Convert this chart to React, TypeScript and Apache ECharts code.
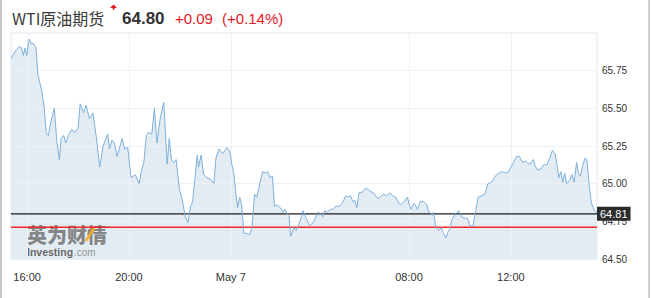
import { useEffect, useRef } from 'react';
import * as echarts from 'echarts';

// Time axis: trading minutes counted from May 6 00:00 (the 05:00–06:00 break removed)
const tradingMinutes = [
  922, 932, 942, 947, 951, 955, 959, 965, 969, 975,
  981, 985, 995, 1000, 1005, 1010, 1016, 1024, 1030, 1036,
  1040, 1046, 1051, 1057, 1065, 1073, 1080, 1085, 1093, 1099,
  1107, 1115, 1123, 1131, 1139, 1150, 1154, 1160, 1166, 1172,
  1176, 1184, 1190, 1197, 1205, 1215, 1224, 1229, 1235, 1241,
  1246, 1254, 1260, 1266, 1274, 1282, 1290, 1295, 1300, 1305,
  1311, 1319, 1325, 1333, 1339, 1345, 1350, 1361, 1364, 1370,
  1376, 1384, 1392, 1400, 1405, 1412, 1421, 1431, 1437, 1443,
  1447, 1451, 1456, 1461, 1465, 1471, 1479, 1485, 1490, 1496,
  1501, 1506, 1515, 1522, 1527, 1532, 1538, 1543, 1549, 1557,
  1563, 1567, 1573, 1577, 1581, 1589, 1594, 1602, 1610, 1616,
  1626, 1636, 1645, 1652, 1657, 1661, 1667, 1675, 1681, 1687,
  1695, 1703, 1711, 1716, 1722, 1728, 1732, 1737, 1742, 1748,
  1754, 1760, 1768, 1776, 1787, 1795, 1801, 1807, 1815, 1821,
  1829, 1834, 1840, 1848, 1856, 1860, 1864, 1872, 1880, 1886,
  1895, 1902, 1907, 1914, 1918, 1923, 1931, 1936, 1941, 1947,
  1952, 1956, 1962, 1970, 1977, 1984, 1992, 1998, 2003, 2011,
  2017, 2023, 2032, 2039, 2046, 2055, 2063, 2072, 2080, 2087,
  2095, 2100, 2106, 2113, 2120, 2128, 2134, 2139, 2145, 2153,
  2157, 2163, 2171, 2179, 2184, 2190, 2198, 2204, 2209, 2213,
  2218, 2222, 2227, 2231, 2238, 2244, 2249, 2255, 2259, 2264,
  2269, 2275, 2279, 2285, 2290, 2297, 2303,
];

const prices = [
  65.83, 65.88, 65.91, 65.90, 65.85, 65.90, 65.85, 65.96, 65.93, 65.93,
  65.90, 65.73, 65.61, 65.51, 65.34, 65.32, 65.41, 65.50, 65.28, 65.16,
  65.30, 65.32, 65.27, 65.32, 65.36, 65.34, 65.37, 65.53, 65.47, 65.52,
  65.43, 65.47, 65.31, 65.11, 65.25, 65.33, 65.23, 65.29, 65.27, 65.18,
  65.22, 65.30, 65.23, 65.24, 65.04, 65.06, 65.00, 65.08, 65.14, 65.32,
  65.34, 65.33, 65.50, 65.27, 65.44, 65.54, 65.13, 65.30, 65.16, 65.14,
  65.16, 64.96, 64.90, 64.78, 64.74, 64.85, 64.88, 65.19, 65.11, 65.19,
  65.06, 65.04, 65.03, 65.00, 65.17, 65.23, 65.20, 65.24, 65.22, 65.12,
  65.07, 64.96, 64.84, 64.91, 64.87, 64.67, 64.67, 64.66, 64.72, 64.93,
  64.91, 64.97, 65.08, 65.07, 65.08, 65.04, 65.05, 64.85, 64.86, 64.84,
  64.81, 64.83, 64.80, 64.79, 64.65, 64.71, 64.69, 64.74, 64.82, 64.78,
  64.72, 64.75, 64.81, 64.80, 64.78, 64.82, 64.81, 64.83, 64.83, 64.85,
  64.85, 64.87, 64.92, 64.91, 64.92, 64.88, 64.89, 64.84, 64.94, 64.94,
  64.96, 64.97, 64.95, 64.94, 64.90, 64.92, 64.93, 64.92, 64.94, 64.92,
  64.91, 64.88, 64.86, 64.88, 64.91, 64.87, 64.83, 64.87, 64.83, 64.88,
  64.88, 64.86, 64.81, 64.80, 64.81, 64.71, 64.69, 64.71, 64.67, 64.64,
  64.68, 64.70, 64.77, 64.80, 64.82, 64.78, 64.77, 64.77, 64.72, 64.72,
  64.82, 64.91, 64.92, 64.93, 65.00, 65.01, 65.05, 65.07, 65.08, 65.07,
  65.08, 65.11, 65.14, 65.18, 65.18, 65.14, 65.15, 65.14, 65.13, 65.16,
  65.12, 65.09, 65.10, 65.13, 65.12, 65.16, 65.22, 65.20, 65.12, 65.04,
  65.08, 65.01, 65.07, 65.00, 65.02, 65.06, 65.01, 65.14, 65.07, 65.05,
  65.12, 65.17, 65.16, 64.98, 64.87, 64.82, 64.81,
];

const xTickValues = [960, 1200, 1440, 1860, 2100];
const xTickLabels = ['16:00', '20:00', 'May 7', '08:00', '12:00'];
const xMin = 922;
const xMax = 2303;

const yMin = 64.5;
const yMax = 66.0;
const yInterval = 0.25;

const lastPriceLine = 64.8;
const lastPriceLabel = '64.81';
const prevClose = 64.71;

const titleText = 'WTI原油期货';
const priceText = '64.80';
const changeText = '+0.09';
const changePctText = '(+0.14%)';

const LATIN = '"Liberation Sans", Arial, sans-serif';
const CJK = '"Noto Sans CJK SC", "Liberation Sans", sans-serif';
const RED = '#e5171f';

export default function App() {
  const ref = useRef<HTMLDivElement>(null);

  useEffect(() => {
    if (!ref.current) return;
    const chart = echarts.init(ref.current, undefined, { renderer: 'svg' });
    const data = tradingMinutes.map((m, i) => [m, prices[i]]);
    const labelMap: Record<number, string> = {};
    xTickValues.forEach((v, i) => (labelMap[v] = xTickLabels[i]));

    chart.setOption({
      animation: false,
      grid: {
        left: 11,
        right: 55,
        top: 33,
        bottom: 39,
        show: true,
        borderColor: '#e2e6eb',
        borderWidth: 1,
        backgroundColor: 'transparent',
      },
      xAxis: {
        type: 'value',
        min: xMin,
        max: xMax,
        z: 2,
        axisLine: { show: false },
        axisTick: { show: false, customValues: xTickValues },
        axisLabel: {
          customValues: xTickValues,
          formatter: (v: number) => labelMap[v] ?? '',
          color: '#333',
          fontSize: 11,
          fontFamily: LATIN,
          margin: 12,
        },
        splitLine: { show: true, lineStyle: { color: '#edf1f5', width: 1 } },
      },
      yAxis: {
        type: 'value',
        position: 'right',
        min: yMin,
        max: yMax,
        interval: yInterval,
        z: 2,
        axisLine: { show: false },
        axisTick: { show: false },
        axisLabel: {
          formatter: (v: number) => v.toFixed(2),
          showMaxLabel: false,
          color: '#333',
          fontSize: 10,
          fontFamily: LATIN,
          margin: 5,
        },
        splitLine: { show: true, lineStyle: { color: '#edf1f5', width: 1 } },
      },
      series: [
        {
          type: 'line',
          data,
          z: 1,
          symbol: 'none',
          silent: true,
          lineStyle: { width: 0, opacity: 0 },
          areaStyle: { color: '#e4ecf3', opacity: 1, origin: 'start' },
        },
        {
          name: 'prevClose',
          type: 'line',
          data: [[xMin, prevClose], [xMax, prevClose]],
          z: 3,
          symbol: 'none',
          silent: true,
          color: '#f52525',
          lineStyle: { color: '#f52525', width: 1.5, opacity: 1 },
        },
        {
          name: 'last',
          type: 'line',
          data: [[xMin, lastPriceLine], [xMax, lastPriceLine]],
          z: 3,
          symbol: 'none',
          silent: true,
          color: '#1a1a1a',
          lineStyle: { color: '#1a1a1a', width: 1.2 },
          endLabel: {
            show: true,
            distance: 0,
            formatter: lastPriceLabel,
            backgroundColor: '#2b2b2b',
            color: '#fff',
            fontSize: 11,
            fontFamily: LATIN,
            padding: [2, 3, 1, 3],
          },
        },
        {
          type: 'line',
          data,
          z: 4,
          symbol: 'none',
          silent: true,
          lineStyle: { color: '#7eb0dc', width: 1 },
        },
      ],
      graphic: [
        {
          type: 'text',
          x: 12,
          y: 18,
          style: { text: titleText, fontSize: 16, fontFamily: CJK, fill: '#3a3a3a', verticalAlign: 'middle' },
        },
        {
          type: 'polygon',
          shape: { points: [[110, 8], [113.5, 4.5], [117, 8]] },
          style: { fill: RED },
        },
        {
          type: 'rect',
          shape: { x: 112.7, y: 7.5, width: 1.8, height: 2.2 },
          style: { fill: RED },
        },
        {
          type: 'text',
          x: 122,
          y: 18,
          style: { text: priceText, fontSize: 17, fontWeight: 'bold', fontFamily: LATIN, fill: '#333', verticalAlign: 'middle' },
        },
        {
          type: 'text',
          x: 175,
          y: 18,
          style: { text: changeText, fontSize: 15, fontFamily: LATIN, fill: RED, verticalAlign: 'middle' },
        },
        {
          type: 'text',
          x: 222,
          y: 18,
          style: { text: changePctText, fontSize: 15, fontFamily: LATIN, fill: RED, verticalAlign: 'middle' },
        },
        {
          type: 'text',
          x: 27,
          y: 234,
          z: 2,
          style: { text: '英为财情', fontSize: 20, fontWeight: 900, fontFamily: CJK, fill: 'rgba(105,105,105,0.8)', verticalAlign: 'middle' },
        },
        {
          type: 'line',
          z: 2,
          shape: { x1: 86, y1: 241, x2: 94, y2: 228 },
          style: { stroke: 'rgba(245,170,35,0.9)', lineWidth: 3 },
        },
        {
          type: 'text',
          x: 27,
          y: 252,
          z: 2,
          style: { text: 'Investing', fontSize: 10.5, fontWeight: 'bold', fontFamily: LATIN, fill: 'rgba(85,85,85,0.9)', verticalAlign: 'middle' },
        },
        {
          type: 'text',
          x: 74,
          y: 252.5,
          z: 2,
          style: { text: '.com', fontSize: 10, fontFamily: LATIN, fill: 'rgba(130,130,130,0.85)', verticalAlign: 'middle' },
        },
      ],
    });
    return () => chart.dispose();
  }, []);

  return (
    <div style={{ position: 'fixed', left: 0, top: 0, width: 652, height: 298, background: '#fff' }}>
      <div ref={ref} style={{ position: 'absolute', left: 0, top: 0, width: 652, height: 298 }} />
      <div style={{ position: 'absolute', left: 0, top: 0, width: 2, height: 298, background: '#c8c8c8' }} />
      <div style={{ position: 'absolute', left: 648, top: 0, width: 2, height: 298, background: '#d0d0d0' }} />
    </div>
  );
}
